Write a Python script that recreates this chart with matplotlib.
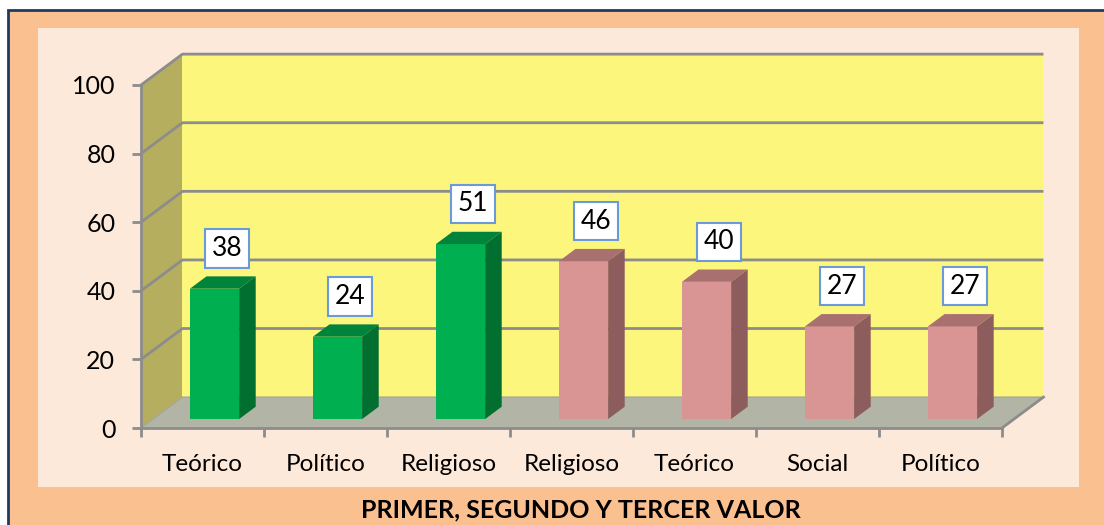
import matplotlib.pyplot as plt
from matplotlib.patches import Rectangle, Polygon

categories = ['Teórico', 'Político', 'Religioso', 'Religioso', 'Teórico', 'Social', 'Político']
values = [38, 24, 51, 46, 40, 27, 27]
group = [0, 0, 0, 1, 1, 1, 1]   # 0 = primer valor (green), 1 = segundo/tercer (pink)
yticks = [0, 20, 40, 60, 80, 100]
title = 'PRIMER, SEGUNDO Y TERCER VALOR'

# face, top, side colours per group
bar_colors = [('#00B050', '#00843C', '#006F2F'),
              ('#D99594', '#A87170', '#8C5D5C')]

plt.rcParams['font.family'] = ['Lato', 'DejaVu Sans']

W, H = 1104, 525
fig = plt.figure(figsize=(W / 100, H / 100), dpi=100)
fig.patch.set_facecolor('white')

# frame: orange band with dark blue border, pink inner area
fig.patches.append(Rectangle((8 / W, -10 / H), (W + 10) / W, (H - 10 + 10) / H,
                             transform=fig.transFigure, facecolor='#FAC090',
                             edgecolor='#1F3A60', linewidth=2, zorder=-2))
fig.patches.append(Rectangle((38 / W, (H - 487) / H), (1079 - 38) / W, (487 - 28) / H,
                             transform=fig.transFigure, facecolor='#FDE9DA',
                             edgecolor='none', zorder=-1))

ax = fig.add_axes([141 / W, (H - 428) / H, 861 / W, 343 / H])
ax.set_xlim(0, len(categories))
ax.set_ylim(0, 100)
ax.patch.set_visible(False)

# depth vector (category units, value units)
DX, DY = 0.337, 9.0
n = len(categories)


def p(x, y, d):
    return (x + d * DX, y + d * DY)


grid_c = '#8C8C8C'
# walls
ax.add_patch(Polygon([p(0, 0, 0), p(0, 100, 0), p(0, 100, 1), p(0, 0, 1)],
                     closed=True, facecolor='#B5AE5F', edgecolor='none', zorder=1, clip_on=False))
ax.add_patch(Polygon([p(0, 0, 1), p(0, 100, 1), p(n, 100, 1), p(n, 0, 1)],
                     closed=True, facecolor='#FCF67C', edgecolor='none', zorder=1, clip_on=False))
ax.add_patch(Polygon([p(0, 0, 0), p(n, 0, 0), p(n, 0, 1), p(0, 0, 1)],
                     closed=True, facecolor='#B2B4A6', edgecolor='none', zorder=1, clip_on=False))

# gridlines on side and back wall
for v in yticks:
    pts = [p(0, v, 0), p(0, v, 1), p(n, v, 1)]
    lw, c = (2, grid_c) if v > 0 else (1, '#A5A796')
    ax.plot([q[0] for q in pts], [q[1] for q in pts], color=c, lw=lw,
            zorder=2, clip_on=False, solid_capstyle='butt')
# floor right edge
e = [p(n, 0, 0), p(n, 0, 1)]
ax.plot([e[0][0], e[1][0]], [e[0][1], e[1][1]], color=grid_c, lw=2, zorder=2, clip_on=False)

# bars
d0, d1 = 0.29, 0.69
for i, (v, g) in enumerate(zip(values, group)):
    x0, x1 = i + 0.3, i + 0.7
    face, top, side = bar_colors[g]
    ax.add_patch(Polygon([p(x0, 0, d0), p(x1, 0, d0), p(x1, v, d0), p(x0, v, d0)],
                         closed=True, facecolor=face, edgecolor='none', zorder=3, clip_on=False))
    ax.add_patch(Polygon([p(x0, v, d0), p(x1, v, d0), p(x1, v, d1), p(x0, v, d1)],
                         closed=True, facecolor=top, edgecolor='none', zorder=3, clip_on=False))
    ax.add_patch(Polygon([p(x1, 0, d0), p(x1, v, d0), p(x1, v, d1), p(x1, 0, d1)],
                         closed=True, facecolor=side, edgecolor='none', zorder=3, clip_on=False))
    cx, cy = p(i + 0.5, v, (d0 + d1) / 2)
    ax.annotate(str(v), (cx, cy), xytext=(4, 34), textcoords='offset pixels',
                ha='center', va='center', fontsize=19, color='black', zorder=5,
                annotation_clip=False,
                bbox=dict(boxstyle='square,pad=0.25', facecolor='white',
                          edgecolor='#6A9BD8', linewidth=1.5))

# axes: front spines, ticks and labels
for s in ['top', 'right']:
    ax.spines[s].set_visible(False)
for s in ['left', 'bottom']:
    ax.spines[s].set_color(grid_c)
    ax.spines[s].set_linewidth(2)
    ax.spines[s].set_zorder(2.5)
ax.set_yticks(yticks)
ax.set_yticklabels([str(v) for v in yticks])
ax.tick_params(axis='y', length=6.5, width=2, color=grid_c, pad=12, labelsize=18)
ax.set_xticks(range(n + 1))
ax.set_xticklabels([])
ax.set_xticks([i + 0.5 for i in range(n)], minor=True)
ax.set_xticklabels(categories, minor=True)
ax.tick_params(axis='x', which='major', length=6.5, width=2, color=grid_c)
ax.tick_params(axis='x', which='minor', length=0, pad=19, labelsize=17.5)

fig.text(581 / W, 1 - 510 / H, title, ha='center', va='center',
         fontsize=18, fontweight='bold')

fig.savefig('out.png', dpi=100)
